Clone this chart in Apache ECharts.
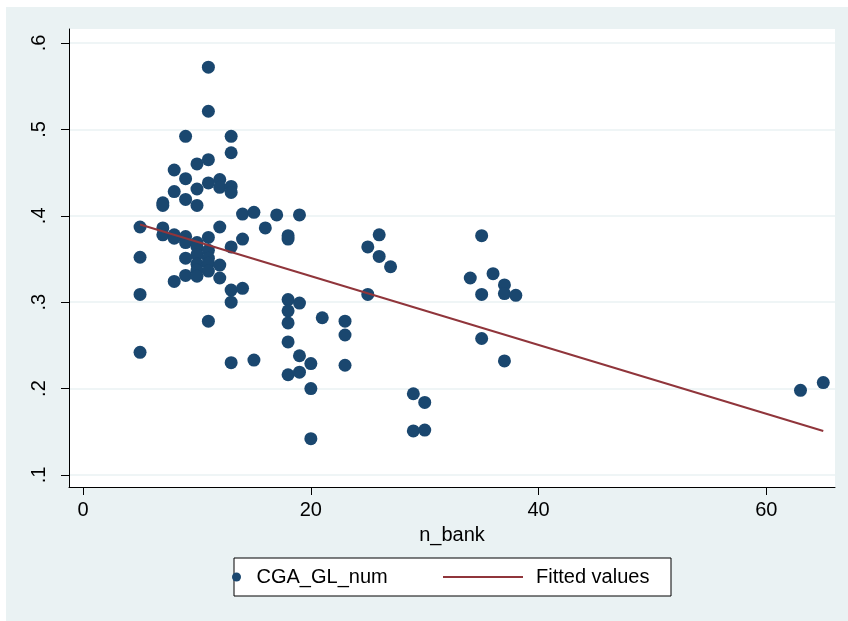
<!DOCTYPE html>
<html>
<head>
<meta charset="utf-8">
<script src="https://cdn.jsdelivr.net/npm/echarts@6/dist/echarts.min.js"></script>
<style>
html,body{margin:0;padding:0;background:#fff;}
#chart{width:848px;height:621px;}
</style>
</head>
<body>
<div id="chart"></div>
<script>
// n_bank values (x) and matching CGA_GL_num values (y)
const nBank = [
  5,5,5,5,
  7,7,7,7,
  8,8,8,8,8,
  9,9,9,9,9,9,9,
  10,10,10,10,10,10,10,10,10,
  11,11,11,11,11,11,11,11,11,11,
  12,12,12,12,12,
  13,13,13,13,13,13,13,13,
  14,14,14,
  15,15,
  16,
  17,
  18,18,18,18,18,18,18,
  19,19,19,19,
  20,20,20,
  21,
  23,23,23,
  25,25,
  26,26,
  27,
  29,29,
  30,30,
  34,
  35,35,35,
  36,
  37,37,37,
  38,
  63,
  65
];
const cgaGlNum = [
  0.387,0.352,0.309,0.242,
  0.415,0.412,0.386,0.378,
  0.453,0.428,0.378,0.374,0.324,
  0.492,0.443,0.419,0.376,0.369,0.351,0.331,
  0.460,0.431,0.412,0.369,0.364,0.355,0.344,0.337,0.330,
  0.572,0.521,0.465,0.438,0.375,0.360,0.351,0.345,0.336,0.278,
  0.442,0.433,0.387,0.343,0.328,
  0.492,0.473,0.434,0.427,0.364,0.314,0.300,0.230,
  0.402,0.373,0.316,
  0.404,0.233,
  0.386,
  0.401,
  0.377,0.373,0.303,0.290,0.276,0.254,0.216,
  0.401,0.299,0.238,0.219,
  0.229,0.200,0.142,
  0.282,
  0.278,0.262,0.227,
  0.364,0.309,
  0.378,0.353,
  0.341,
  0.194,0.151,
  0.184,0.152,
  0.328,
  0.377,0.309,0.258,
  0.333,
  0.320,0.310,0.232,
  0.308,
  0.198,
  0.207
];
// Fitted values line (endpoints)
const fitX = [5, 65];
const fitY = [0.390, 0.151];

const xTicks = [0, 20, 40, 60];
const xTickLabels = ['0', '20', '40', '60'];
const yTicks = [0.1, 0.2, 0.3, 0.4, 0.5, 0.6];
const yTickLabels = ['.1', '.2', '.3', '.4', '.5', '.6'];

const FONT = '"Liberation Sans", Arial, Helvetica, sans-serif';

const scatterData = nBank.map((x, i) => [x, cgaGlNum[i]]);
const fitData = fitX.map((x, i) => [x, fitY[i]]);

const chart = echarts.init(document.getElementById('chart'), null, {renderer: 'canvas'});
chart.setOption({
  backgroundColor: '#EAF2F3',
  animation: false,
  textStyle: {fontFamily: FONT},
  graphic: [
    {type: 'rect', shape: {x: 0, y: 0, width: 848, height: 7}, style: {fill: '#fff'}, z: 0},
    {type: 'rect', shape: {x: 0, y: 0, width: 6, height: 621}, style: {fill: '#fff'}, z: 0},
    {type: 'rect', shape: {x: 234, y: 558, width: 437, height: 38}, style: {fill: '#fff', stroke: '#000', lineWidth: 1}, z: 0}
  ],
  grid: {
    left: 69, top: 29, right: 13, bottom: 134,
    show: true, backgroundColor: '#fff', borderWidth: 0
  },
  xAxis: {
    type: 'value',
    min: -1.24, max: 66.03,
    name: 'n_bank',
    nameLocation: 'middle',
    nameGap: 38,
    nameTextStyle: {fontSize: 20, color: '#000', fontFamily: FONT},
    axisLine: {show: true, onZero: false, lineStyle: {color: '#000', width: 1}},
    axisTick: {show: true, length: 8, customValues: xTicks, lineStyle: {color: '#000', width: 1}},
    axisLabel: {
      customValues: xTicks, margin: 13, fontSize: 20, color: '#000', fontFamily: FONT,
      formatter: v => xTickLabels[xTicks.indexOf(v)] ?? ''
    },
    splitLine: {show: false}
  },
  yAxis: {
    type: 'value',
    min: 0.0861, max: 0.6162,
    axisLine: {show: true, onZero: false, lineStyle: {color: '#000', width: 1}},
    axisTick: {show: true, length: 8, customValues: yTicks, lineStyle: {color: '#000', width: 1}},
    axisLabel: {
      customValues: yTicks, margin: 20, fontSize: 20, color: '#000', rotate: 90, fontFamily: FONT,
      formatter: v => {
        const i = yTicks.findIndex(t => Math.abs(t - v) < 1e-6);
        return i >= 0 ? yTickLabels[i] : '';
      }
    },
    splitLine: {show: true, lineStyle: {color: '#EAF2F3', width: 1.5}}
  },
  legend: [
    {
      data: ['CGA_GL_num'],
      left: 232, top: 567, padding: 0,
      itemWidth: 26, itemHeight: 9,
      icon: 'circle',
      textStyle: {fontSize: 20, color: '#000', fontFamily: FONT, padding: [0, 0, 0, 2]},
      z: 10
    },
    {
      data: ['Fitted values'],
      left: 443, top: 567, padding: 0,
      itemWidth: 80, itemHeight: 2,
      icon: 'rect',
      textStyle: {fontSize: 20, color: '#000', fontFamily: FONT, padding: [0, 0, 0, 8]},
      z: 10
    }
  ],
  series: [
    {
      name: 'CGA_GL_num',
      type: 'scatter',
      data: scatterData,
      symbol: 'circle',
      symbolSize: 13,
      itemStyle: {color: '#1A476F', opacity: 1},
      z: 3
    },
    {
      name: 'Fitted values',
      type: 'line',
      data: fitData,
      symbol: 'none',
      lineStyle: {color: '#90353B', width: 2},
      itemStyle: {color: '#90353B'},
      z: 4
    }
  ]
});
</script>
</body>
</html>
